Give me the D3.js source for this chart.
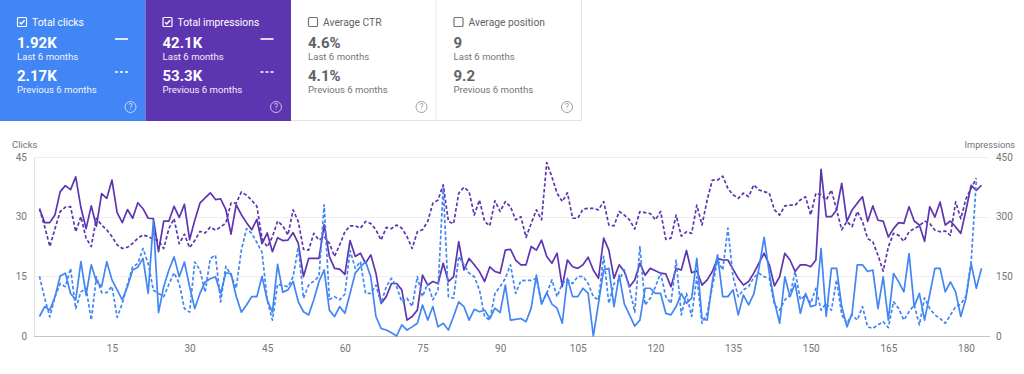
<!DOCTYPE html>
<html><head><meta charset="utf-8">
<script src="https://cdn.jsdelivr.net/npm/d3@7"></script>
<style>
html,body{margin:0;padding:0;background:#fff;}
svg{display:block;font-family:Roboto,"Noto Sans",Arial,sans-serif;}
</style></head>
<body>
<svg id="c" width="1024" height="374"></svg>
<script>
// ---------- data ----------
const cardTitles = ["Total clicks", "Total impressions", "Average CTR", "Average position"];
const cardCurrent = ["1.92K", "42.1K", "4.6%", "9"];
const cardPrevious = ["2.17K", "53.3K", "4.1%", "9.2"];
const cardChecked = [true, true, false, false];
const periodLabels = ["Last 6 months", "Previous 6 months"];

const leftTicks = [0, 15, 30, 45];
const rightTicks = [0, 150, 300, 450];
const xTicks = [15, 30, 45, 60, 75, 90, 105, 120, 135, 150, 165, 180];

const currentImpressions = [
320,285,285,305,363,378,368,400,323,270,
327,276,358,346,392,310,285,318,296,335,
320,296,295,212,289,289,326,298,331,242,
291,334,347,360,343,345,318,256,330,305,
285,267,293,232,259,212,247,240,241,260,
233,149,195,195,195,280,200,170,168,155,
240,200,208,183,204,158,82,99,132,132,
116,40,49,65,153,128,137,132,183,137,
149,237,166,195,179,162,137,174,162,158,
216,218,191,179,179,225,216,241,200,183,
208,124,191,174,170,179,198,166,145,246,
216,145,179,162,124,141,183,153,170,164,
158,156,124,170,166,215,159,164,128,141,
162,195,191,191,168,145,128,137,158,183,
208,179,126,149,208,191,162,179,179,174,
191,419,300,300,317,384,288,317,334,350,
288,327,291,289,249,270,285,283,325,289,
279,238,325,299,337,279,289,274,258,316,
379,366,379];

const previousImpressions = [
320,275,225,270,313,324,325,262,300,246,
225,296,279,267,250,229,220,223,233,246,
254,250,243,240,220,270,295,232,256,222,
240,263,259,274,266,274,284,334,334,362,
354,341,326,245,224,249,289,277,254,317,
288,218,216,258,241,250,233,200,229,262,
277,277,271,288,283,267,241,273,270,279,
271,250,220,262,267,288,334,342,380,288,
282,359,374,363,304,342,288,277,340,313,
338,325,292,300,248,283,317,292,436,400,
359,338,360,296,296,319,321,321,317,338,
279,277,313,304,292,269,313,310,308,292,
313,243,246,304,251,262,258,329,279,342,
392,392,402,371,355,346,359,350,380,367,
363,359,317,304,327,329,329,342,350,304,
359,355,342,367,317,267,288,275,313,288,
245,237,203,163,224,258,253,238,262,270,
277,289,283,266,262,264,253,337,295,345,
371,397];

const currentClicks = [
4.9,7.4,6.5,9.9,15.1,15.8,10.7,9.1,18.7,10.3,
17.9,13.7,12.4,18.7,14.1,11.6,9.1,12.4,16.6,17.3,
19.5,10.7,29,5.9,12.4,16.6,19.9,14.9,18.6,12.4,
6.9,10.7,13.6,14.4,14.9,10.7,15.9,15.7,10,6,
7.8,9.9,9.9,15,9,6,18,11,11.6,13.7,
8.6,6.1,5.3,9.1,13.7,16.6,6.5,4.9,7.4,5.7,
10.7,15.8,17.4,18.7,14.9,4.9,1.9,1.5,0.8,0,
2.8,1.5,2.3,3.2,7.8,4,7.4,2.3,3.2,1.5,
4.9,8.6,7.4,4,6.7,6.1,6.5,4.4,7,5.9,
12.8,4,4.2,4.4,3.6,7,15.3,8,10.9,8,
7,3.2,14.5,9.9,9.9,12,10.7,0,8.2,16.6,
17,7.4,15.3,8,5.3,2.5,4,12,12,10.7,
10.7,5.7,5.3,7.4,10.7,8.2,9.5,19.5,4.4,4,
13.7,20.4,9.9,9.9,11.6,5.3,10.3,7.8,10.5,17,
24.8,15.8,8.6,3.2,14.9,9.9,13.2,5.7,10.7,7.4,
7.8,22,4.9,17,17,7.4,2.3,5.7,17.9,17.9,
16.2,16.6,6.9,14.9,4,15.7,13.6,11.1,20.7,7.4,
10.7,4,10.5,17,17,11.1,13.6,11.1,4.9,9.5,
18.2,12,17];

const previousClicks = [
15,9.5,4.8,9.9,13.2,12.4,17,6.9,11.1,12,
4,14.9,10.9,10.9,12.5,4.7,8.2,13,17.4,18.2,
22,18.2,11.5,10.7,9.9,13,15.9,13.2,6.9,6,
18.6,16.6,11,19.5,20.3,8.6,17.5,15.3,12,21.6,
27,25.8,23.5,21,9,4,13,12.7,12.4,14.9,
22.4,9.5,12.8,13.8,15,33,9.2,9.9,9.1,10.5,
21.5,17,18.7,10.7,10.7,12.8,8.2,12.4,14.5,12.4,
8.6,9.5,7.4,14.9,9.9,13.2,9.1,11.6,37.5,9.9,
9.5,20,17.9,15.8,14.9,11.6,4.9,4,10.7,12.4,
14.5,17.9,10.7,13.9,14,14,14.5,8.2,10.7,14.1,
9.9,13.2,14.1,13.2,14.9,15,13.2,9.9,9.1,20,
8.2,13.2,14.1,16.6,12,6,22.5,7.8,9.5,12.4,
15.8,9.9,8.2,19.1,5.3,10.7,4.9,14.9,3.2,5.7,
12.4,19.1,16.6,27.1,14.9,9.9,11.6,12.4,14.7,15.8,
14.9,14.5,7.8,6.5,9.1,10.3,16.2,9.1,10.3,8.2,
12,6.5,8.2,6.5,14.1,5.3,3.2,5.3,4,7.4,
2.3,1.9,2.8,3.6,2.1,8.6,6.9,4,6.1,7.8,
2.8,9.6,6.9,5.3,4.4,3.2,5.3,7.4,8,10,
18.7,39.1];

// ---------- styles ----------
const BLUE = "#4285f4", PURPLE = "#5e35b1";
const svg = d3.select("#c");

// ---------- cards ----------
const cardW = 145.5, cardH = 121;
const cardFill = [BLUE, PURPLE, "#fff", "#fff"];
const cards = svg.selectAll("g.card").data(cardTitles).join("g")
  .attr("class", "card")
  .attr("transform", (d, i) => `translate(${i * cardW},0)`);

cards.append("rect").attr("width", cardW).attr("height", cardH)
  .attr("fill", (d, i) => cardFill[i]);
cards.filter((d, i) => i >= 2).append("path")
  .attr("d", `M${cardW - 0.5},0V${cardH - 0.5}H0`)
  .attr("fill", "none").attr("stroke", "#e3e3e3");

const fg = i => cardChecked[i] ? "#fff" : "#5f6368";
const sub = i => cardChecked[i] ? "#fff" : "#757575";

// checkbox
cards.append("rect").attr("x", 17.5).attr("y", 17.5).attr("width", 9).attr("height", 9).attr("rx", 1)
  .attr("fill", "none").attr("stroke", (d, i) => cardChecked[i] ? "#fff" : "#757575").attr("stroke-width", 1.2);
cards.filter((d, i) => cardChecked[i]).append("path")
  .attr("d", "M19.6,22.2L21.3,24L24.6,20.2").attr("fill", "none").attr("stroke", "#fff").attr("stroke-width", 1.4);

cards.append("text").attr("x", 32).attr("y", 25.5).attr("font-size", 10.3)
  .attr("fill", (d, i) => cardChecked[i] ? "#fff" : "#5f6368").text(d => d);
cards.append("text").attr("x", 17).attr("y", 48).attr("font-size", 15).attr("font-weight", 700)
  .attr("fill", (d, i) => fg(i)).text((d, i) => cardCurrent[i]);
cards.append("text").attr("x", 17).attr("y", 59.5).attr("font-size", 9.6)
  .attr("fill", (d, i) => sub(i)).attr("opacity", (d, i) => cardChecked[i] ? 0.92 : 1).text(periodLabels[0]);
cards.append("text").attr("x", 17).attr("y", 81).attr("font-size", 15).attr("font-weight", 700)
  .attr("fill", (d, i) => fg(i)).text((d, i) => cardPrevious[i]);
cards.append("text").attr("x", 17).attr("y", 93).attr("font-size", 9.6)
  .attr("fill", (d, i) => sub(i)).attr("opacity", (d, i) => cardChecked[i] ? 0.92 : 1).text(periodLabels[1]);

// legend dashes on selected cards
const sel = cards.filter((d, i) => cardChecked[i]);
sel.append("line").attr("x1", 115).attr("x2", 128).attr("y1", 39).attr("y2", 39)
  .attr("stroke", "#fff").attr("stroke-width", 1.6);
sel.append("line").attr("x1", 115).attr("x2", 128).attr("y1", 72).attr("y2", 72)
  .attr("stroke", "#fff").attr("stroke-width", 1.6).attr("stroke-dasharray", "3,2");

// help icons
cards.append("circle").attr("cx", 130.5).attr("cy", 107).attr("r", 5.5)
  .attr("fill", "none").attr("stroke", (d, i) => cardChecked[i] ? "rgba(255,255,255,0.65)" : "#9e9e9e").attr("stroke-width", 1);
cards.append("text").attr("x", 130.5).attr("y", 110).attr("text-anchor", "middle").attr("font-size", 8.5)
  .attr("fill", (d, i) => cardChecked[i] ? "rgba(255,255,255,0.75)" : "#9e9e9e").text("?");

// ---------- chart ----------
const x = d3.scaleLinear().domain([1, 183]).range([39.5, 981.5]);
const yL = d3.scaleLinear().domain([0, 45]).range([336, 157]);
const yR = d3.scaleLinear().domain([0, 450]).range([336, 157]);
const plotL = 34, plotR = 988;

const chart = svg.append("g").attr("font-size", 10).attr("fill", "#757575");

// gridlines
chart.selectAll("line.grid").data(leftTicks.filter(t => t > 0)).join("line")
  .attr("x1", plotL).attr("x2", plotR).attr("y1", d => Math.round(yL(d)) + 0.5).attr("y2", d => Math.round(yL(d)) + 0.5)
  .attr("stroke", "#eeeeee");
// left axis line
chart.append("line").attr("x1", plotL + 0.5).attr("x2", plotL + 0.5).attr("y1", yL(45)).attr("y2", yL(0))
  .attr("stroke", "#e0e0e0");
// bottom axis line
chart.append("line").attr("x1", plotL).attr("x2", plotR + 2).attr("y1", yL(0) + 0.5).attr("y2", yL(0) + 0.5)
  .attr("stroke", "#c4c4c4");

// left axis labels
const axL = d3.axisLeft(yL).tickValues(leftTicks).tickSize(0).tickPadding(0);
const gL = chart.append("g").attr("transform", "translate(27,0)").call(axL);
gL.select(".domain").remove();
gL.selectAll("text").attr("fill", "#757575").attr("font-size", 10).attr("font-family", "Roboto, sans-serif");

// right axis labels
const axR = d3.axisRight(yR).tickValues(rightTicks).tickSize(0).tickPadding(0);
const gR = chart.append("g").attr("transform", "translate(996,0)").call(axR);
gR.select(".domain").remove();
gR.selectAll("text").attr("fill", "#757575").attr("font-size", 10).attr("font-family", "Roboto, sans-serif");

// x axis labels
const axB = d3.axisBottom(x).tickValues(xTicks).tickSize(0).tickPadding(0);
const gB = chart.append("g").attr("transform", "translate(0,345)").call(axB);
gB.select(".domain").remove();
gB.selectAll("text").attr("fill", "#757575").attr("font-size", 10).attr("font-family", "Roboto, sans-serif");

chart.append("text").attr("x", 12).attr("y", 148).attr("font-size", 9.5).text("Clicks");
chart.append("text").attr("x", 1015).attr("y", 148).attr("font-size", 9.2).attr("text-anchor", "end").text("Impressions");

// series
const lineL = d3.line().x((d, i) => x(i + 1)).y(d => yL(d));
const lineR = d3.line().x((d, i) => x(i + 1)).y(d => yR(d));
const series = [
  {data: previousImpressions, line: lineR, color: PURPLE, dash: "3.5,2.2"},
  {data: currentImpressions, line: lineR, color: PURPLE, dash: null},
  {data: previousClicks, line: lineL, color: BLUE, dash: "3.5,2.2"},
  {data: currentClicks, line: lineL, color: BLUE, dash: null}
];
chart.selectAll("path.series").data(series).join("path")
  .attr("class", "series")
  .attr("d", s => s.line(s.data))
  .attr("fill", "none")
  .attr("stroke", s => s.color)
  .attr("stroke-width", 1.7)
  .attr("stroke-linejoin", "round")
  .attr("stroke-dasharray", s => s.dash);
</script>
</body></html>
